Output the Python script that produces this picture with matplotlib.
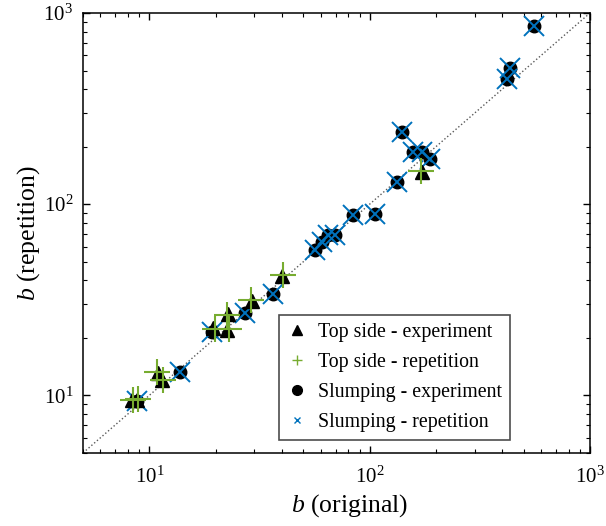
import numpy as np
import matplotlib
matplotlib.use('Agg')
import matplotlib.pyplot as plt
from matplotlib.lines import Line2D
from matplotlib.ticker import LogLocator, NullFormatter

plt.rcParams['font.family'] = ['Liberation Serif', 'DejaVu Serif']
plt.rcParams['mathtext.fontset'] = 'custom'
plt.rcParams['mathtext.rm'] = 'Liberation Serif'
plt.rcParams['mathtext.it'] = 'Liberation Serif:italic'

# Top side points (experiment / repetition)
top_exp_x = [8.3, 8.8, 10.9, 11.4, 19.5, 22.6, 22.8, 29.3, 40.0, 173]
top_exp_y = [9.5, 9.5, 13.1, 12.1, 22.5, 22.0, 26.7, 31.2, 42.2, 148]
top_rep_x = [8.4, 8.9, 10.8, 11.5, 19.8, 22.9, 22.6, 29.0, 40.3, 171]
top_rep_y = [9.4, 9.6, 13.3, 12.0, 22.3, 22.2, 26.4, 31.5, 42.6, 150]

# Slumping points (experiment / repetition)
slump_exp_x = [8.8, 13.8, 19.3, 27.2, 36.4, 56.5, 60.8, 64.7, 69.6, 84.1, 106, 133, 140, 157, 173, 188, 420, 434, 557]
slump_exp_y = [9.3, 13.3, 21.5, 27.0, 34.0, 57.7, 63.5, 69.0, 69.0, 87.9, 88.9, 131, 239, 188, 188, 172, 452, 516, 855]
slump_rep_x = slump_exp_x
slump_rep_y = slump_exp_y

green = '#77AC30'
blue = '#0072BD'

fig = plt.figure(figsize=(6.06, 5.26), dpi=100)
ax = fig.add_axes([0.137, 0.139, 0.8366, 0.8363])

ax.plot([5, 1000], [5, 1000], ':', color='0.35', linewidth=1.0, zorder=1)

ax.plot(slump_exp_x, slump_exp_y, 'o', color='k', markersize=9, zorder=2)
ax.plot(slump_rep_x, slump_rep_y, 'x', color=blue, markersize=14, markeredgewidth=1.4, zorder=3)
ax.plot(top_exp_x, top_exp_y, '^', color='k', markersize=10, zorder=4)
ax.plot(top_rep_x, top_rep_y, '+', color=green, markersize=19, markeredgewidth=1.5, zorder=5)

ax.set_xscale('log')
ax.set_yscale('log')
ax.set_xlim(5, 1000)
ax.set_ylim(5, 1000)

for axis in (ax.xaxis, ax.yaxis):
    axis.set_major_locator(LogLocator(base=10, numticks=10))
    axis.set_minor_locator(LogLocator(base=10, subs=np.arange(2, 10), numticks=20))
    axis.set_minor_formatter(NullFormatter())

ax.tick_params(which='both', direction='in', top=True, right=True, labelsize=15)
ax.tick_params(which='major', length=5, width=1)
ax.tick_params(which='minor', length=3, width=0.8)
ax.tick_params(axis='x', pad=10)
ax.tick_params(axis='y', pad=7)
for s in ax.spines.values():
    s.set_linewidth(1.1)

ax.set_xlabel(r'$b$ (original)', fontsize=18.5)
ax.set_ylabel(r'$b$ (repetition)', fontsize=18.5)
ax.xaxis.set_label_coords(0.525, -0.09)
ax.yaxis.set_label_coords(-0.08, 0.5)

handles = [
    Line2D([], [], linestyle='none', marker='^', color='k', markersize=7),
    Line2D([], [], linestyle='none', marker='+', color=green, markersize=7, markeredgewidth=1),
    Line2D([], [], linestyle='none', marker='o', color='k', markersize=7),
    Line2D([], [], linestyle='none', marker='x', color=blue, markersize=5, markeredgewidth=1),
]
labels = ['Top side - experiment', 'Top side - repetition',
          'Slumping - experiment', 'Slumping - repetition']
leg = ax.legend(handles, labels, loc='lower right', bbox_to_anchor=(0.843, 0.03),
                borderaxespad=0, fontsize=14.3, fancybox=False, framealpha=1,
                edgecolor='0.3', handlelength=1.0, handletextpad=0.6,
                labelspacing=0.55, borderpad=0.4)
leg.get_frame().set_linewidth(1.2)

fig.savefig('out.png', dpi=100)
